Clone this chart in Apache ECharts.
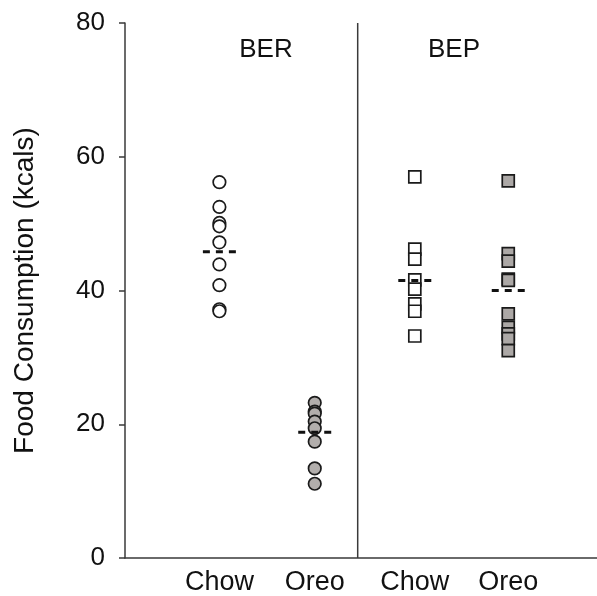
<!DOCTYPE html>
<html>
<head>
<meta charset="utf-8">
<script src="https://cdn.jsdelivr.net/npm/echarts@6/dist/echarts.min.js"></script>
<style>html,body{margin:0;padding:0;background:#fff;}#c{width:597px;height:596px;}</style>
</head>
<body>
<div id="c"></div>
<script>
// ---- data ----
var categories = ['Chow', 'Oreo', 'Chow', 'Oreo'];
var panels = ['BER', 'BEP'];
var yTicks = [0, 20, 40, 60, 80];
var berChow = [56.2, 52.5, 50.1, 49.6, 47.2, 43.9, 40.8, 37.2, 36.9];
var berOreo = [23.2, 21.9, 21.6, 20.4, 19.4, 17.4, 13.4, 11.1];
var bepChow = [57.0, 46.2, 44.7, 41.6, 40.2, 38.0, 36.9, 33.2];
var bepOreo = [56.4, 45.5, 44.4, 41.7, 41.5, 36.5, 34.5, 33.5, 32.8, 31.0];
var groupMeans = [45.8, 18.8, 41.5, 40.0];

// ---- layout ----
var groupX = [1.0, 2.01, 3.07, 4.06];
var dividerX = 2.465;
var halfDash = 0.175;
var FONT = 'Liberation Sans, Arial, Helvetica, sans-serif';

var groups = [berChow, berOreo, bepChow, bepOreo];
var symbols = ['circle', 'circle', 'rect', 'rect'];
var fills = ['#ffffff', '#b2aeac', '#ffffff', '#aca8a6'];
var sizes = [12.5, 12.5, 12, 12];

var series = [];
groups.forEach(function (vals, i) {
  series.push({
    type: 'scatter',
    symbol: symbols[i],
    symbolSize: sizes[i],
    itemStyle: { color: fills[i], borderColor: '#1a1a1a', borderWidth: 1.7, opacity: 1 },
    data: vals.map(function (v) { return [groupX[i], v]; }),
    z: 3,
    silent: true
  });
  series.push({
    type: 'line',
    symbol: 'none',
    lineStyle: { color: '#111', width: 3, type: [7, 6] },
    data: [[groupX[i] - halfDash, groupMeans[i]], [groupX[i] + halfDash, groupMeans[i]]],
    z: 5,
    silent: true
  });
});
series.push({
  type: 'line',
  symbol: 'none',
  lineStyle: { color: '#3a3a3a', width: 1.5 },
  data: [[dividerX, 0], [dividerX, 80]],
  z: 2,
  silent: true
});

var chart = echarts.init(document.getElementById('c'), null, { renderer: 'canvas' });
chart.setOption({
  animation: false,
  backgroundColor: '#ffffff',
  grid: { left: 125, right: 0, top: 23, bottom: 36, containLabel: false },
  xAxis: {
    type: 'value', min: 0, max: 5,
    axisLine: { show: true, lineStyle: { color: '#3a3a3a', width: 1.5 } },
    axisTick: { show: false },
    splitLine: { show: false },
    axisLabel: {
      customValues: groupX,
      formatter: function (v) {
        var idx = groupX.indexOf(v);
        return idx >= 0 ? categories[idx] : '';
      },
      fontFamily: FONT, fontSize: 27, color: '#111', margin: 11
    }
  },
  yAxis: {
    type: 'value', min: yTicks[0], max: yTicks[yTicks.length - 1], interval: 20,
    name: 'Food Consumption (kcals)',
    nameLocation: 'middle', nameRotate: 90, nameGap: 86,
    nameTextStyle: { fontFamily: FONT, fontSize: 28, color: '#111' },
    axisLine: { show: true, lineStyle: { color: '#3a3a3a', width: 1.5 } },
    axisTick: { show: true, inside: false, length: 6, lineStyle: { color: '#3a3a3a', width: 1.5 } },
    splitLine: { show: false },
    axisLabel: { fontFamily: FONT, fontSize: 26, color: '#111', margin: 20 }
  },
  graphic: [
    { type: 'text', x: 266, y: 50, style: { text: panels[0], fontFamily: FONT, fontSize: 26, fill: '#111', textAlign: 'center', textVerticalAlign: 'middle' } },
    { type: 'text', x: 454, y: 50, style: { text: panels[1], fontFamily: FONT, fontSize: 26, fill: '#111', textAlign: 'center', textVerticalAlign: 'middle' } }
  ],
  series: series
});
</script>
</body>
</html>
